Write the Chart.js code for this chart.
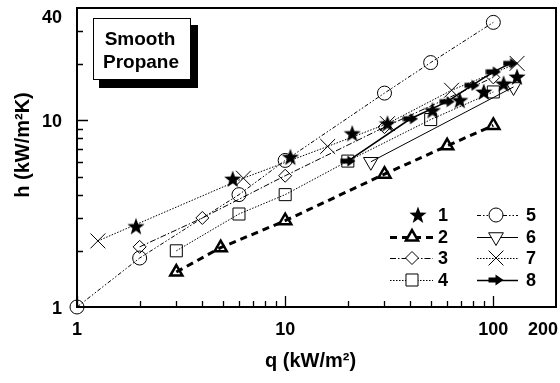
<!DOCTYPE html>
<html>
<head>
<meta charset="utf-8">
<script src="https://cdn.jsdelivr.net/npm/chart.js@4"></script>
<style>
  html, body { margin: 0; padding: 0; background: #fff; }
  #wrap { width: 560px; height: 383px; }
</style>
</head>
<body>
<div id="wrap"><canvas id="chart" width="560" height="383"></canvas></div>
<script>
// series values (q in kW/m2, h in kW/m2K)
const q1 = [1.92, 5.6, 10.6, 21, 31, 51, 69, 90, 112, 130];
const h1 = [2.7, 4.85, 6.35, 8.5, 9.6, 11.3, 12.8, 14.2, 15.7, 17.1];
const q2 = [3, 4.9, 10, 30, 60, 100];
const h2 = [1.54, 2.08, 2.9, 5.15, 7.3, 9.4];
const q3 = [2, 4, 10, 30, 100];
const h3 = [2.1, 3.0, 5.05, 9.2, 17.0];
const q4 = [3, 6, 10, 20, 50, 100];
const h4 = [2.0, 3.15, 4.0, 6.05, 10.1, 14.2];
const q5 = [1, 2, 6, 10, 30, 50, 100];
const h5 = [1, 1.83, 4.0, 6.1, 14, 20.4, 33.5];
const q6 = [25.8, 125];
const h6 = [6.0, 15.1];
const q7 = [1.26, 6.3, 16, 31, 63, 130];
const h7 = [2.26, 4.9, 7.25, 9.6, 14.5, 20.2];
const q8 = [20, 40, 60, 79, 100, 121];
const h8 = [6.05, 10.2, 12.6, 15.4, 18.2, 20.2];

const seriesNames = ['1', '2', '3', '4', '5', '6', '7', '8'];

// axis ticks
const xMajor = [1, 10, 100];
const xMinor = [2, 3, 4, 5, 6, 7, 8, 9, 20, 30, 40, 50, 60, 70, 80, 90];
const xLabels = [1, 10, 100, 200];
const yMajor = [10];
const yMinor = [2, 3, 4, 5, 6, 7, 8, 9, 20, 30];
const yLabels = [1, 10, 40];

const FONT = '"Liberation Sans", Arial, sans-serif';

// filled star and arrow markers
function makeStar() {
    const c = document.createElement('canvas');
    c.width = 18; c.height = 18;
    const g = c.getContext('2d');
    g.beginPath();
    for (let i = 0; i < 10; i++) {
        const r = i % 2 === 0 ? 9 : 3.7;
        const a = -Math.PI / 2 + i * Math.PI / 5;
        const x = 9 + r * Math.cos(a), y = 9.6 + r * Math.sin(a);
        if (i === 0) g.moveTo(x, y); else g.lineTo(x, y);
    }
    g.closePath();
    g.fillStyle = '#000';
    g.fill();
    return c;
}
function makeArrow() {
    const c = document.createElement('canvas');
    c.width = 16; c.height = 12;
    const g = c.getContext('2d');
    g.fillStyle = '#000';
    g.beginPath();
    g.moveTo(0.5, 3.5); g.lineTo(7.5, 3.5); g.lineTo(7.5, 0.5);
    g.lineTo(15.5, 6); g.lineTo(7.5, 11.5); g.lineTo(7.5, 8.5);
    g.lineTo(0.5, 8.5);
    g.closePath();
    g.fill();
    return c;
}
const starImg = makeStar();
const arrowImg = makeArrow();

function pts(qs, hs) {
    return qs.map((q, i) => ({ x: q, y: hs[i] }));
}

const base = { borderColor: '#000', backgroundColor: '#fff', pointBorderColor: '#000',
    pointBackgroundColor: 'rgba(255,255,255,0)', borderWidth: 1, pointBorderWidth: 1, clip: false };

const datasets = [
    Object.assign({}, base, { label: seriesNames[0], data: pts(q1, h1), showLine: false,
        pointStyle: starImg, pointRadius: 8 }),
    Object.assign({}, base, { label: seriesNames[1], data: pts(q2, h2), borderWidth: 3,
        borderDash: [7, 5], pointStyle: 'triangle', pointRadius: 7, pointBorderWidth: 2.5 }),
    Object.assign({}, base, { label: seriesNames[2], data: pts(q3, h3),
        borderDash: [6, 2, 1.5, 2], pointStyle: 'rectRot', pointRadius: 6.5 }),
    Object.assign({}, base, { label: seriesNames[3], data: pts(q4, h4),
        borderDash: [1.5, 1.5], pointStyle: 'rect', pointRadius: 8.5 }),
    Object.assign({}, base, { label: seriesNames[4], data: pts(q5, h5),
        borderDash: [4, 2, 1.5, 2, 1.5, 2], pointStyle: 'circle', pointRadius: 7 }),
    Object.assign({}, base, { label: seriesNames[5], data: pts(q6, h6),
        pointStyle: 'triangle', rotation: 180, pointRadius: 8.5 }),
    Object.assign({}, base, { label: seriesNames[6], data: pts(q7, h7),
        borderDash: [1.5, 1.5], pointStyle: 'crossRot', pointRadius: 10.5 }),
    Object.assign({}, base, { label: seriesNames[7], data: pts(q8, h8), borderWidth: 1.5,
        pointStyle: arrowImg, pointRadius: 8 })
];

// draws frame, inward ticks, tick labels, axis titles, the legend and the label box
const decor = {
    id: 'decor',
    afterDatasetsDraw(chart) {
        const ctx = chart.ctx;
        const a = chart.chartArea;
        const xs = chart.scales.x, ys = chart.scales.y;
        ctx.save();
        ctx.strokeStyle = '#000';
        ctx.fillStyle = '#000';
        ctx.setLineDash([]);

        // frame
        ctx.lineWidth = 2;
        ctx.strokeRect(a.left, a.top, a.right - a.left, a.bottom - a.top);

        // ticks pointing into the plot
        ctx.lineWidth = 1.3;
        ctx.beginPath();
        xMajor.concat(xMinor).forEach(v => {
            const px = Math.round(xs.getPixelForValue(v)) + 0.5;
            const len = xMajor.includes(v) ? 11 : 6;
            ctx.moveTo(px, a.bottom); ctx.lineTo(px, a.bottom - len);
        });
        yMajor.concat(yMinor).forEach(v => {
            const py = Math.round(ys.getPixelForValue(v)) + 0.5;
            const len = yMajor.includes(v) ? 11 : 6;
            ctx.moveTo(a.left, py); ctx.lineTo(a.left + len, py);
        });
        ctx.stroke();

        // tick labels
        ctx.font = 'bold 18px ' + FONT;
        ctx.textBaseline = 'middle';
        ctx.textAlign = 'center';
        xLabels.forEach(v => {
            const t = String(v);
            const w = ctx.measureText(t).width;
            let px = xs.getPixelForValue(v);
            px = Math.min(px, chart.width - w / 2 - 2);
            ctx.fillText(t, px, a.bottom + 23);
        });
        ctx.textAlign = 'right';
        yLabels.forEach(v => {
            let py = ys.getPixelForValue(v) + 2;
            py = Math.max(py, a.top + 10);
            ctx.fillText(String(v), a.left - 15, py);
        });

        // axis titles
        ctx.font = 'bold 20px ' + FONT;
        ctx.textAlign = 'center';
        ctx.fillText('q (kW/m\u00b2)', (a.left + a.right) / 2 - 6, 361);
        ctx.save();
        ctx.translate(23, 145);
        ctx.rotate(-Math.PI / 2);
        ctx.fillText('h (kW/m\u00b2K)', 0, 0);
        ctx.restore();

        // label box with shadow
        ctx.fillRect(99, 25, 99, 63);
        ctx.fillStyle = '#fff';
        ctx.fillRect(93, 18, 98, 62);
        ctx.lineWidth = 1;
        ctx.strokeRect(93.5, 18.5, 97, 61);
        ctx.fillStyle = '#000';
        ctx.font = 'bold 19px ' + FONT;
        ctx.fillText('Smooth', 140, 40);
        ctx.fillText('Propane', 141, 63);

        // legend in two columns
        const cols = [{ x0: 390, x1: 433, mx: 412, tx: 438 }, { x0: 477, x1: 518, mx: 496, tx: 526 }];
        const rows = [215, 237, 258, 280];
        ctx.font = 'bold 18px ' + FONT;
        ctx.textAlign = 'left';
        chart.data.datasets.forEach((ds, i) => {
            const c = cols[Math.floor(i / 4)];
            const y = rows[i % 4];
            ctx.strokeStyle = '#000';
            if (ds.showLine !== false) {
                ctx.lineWidth = ds.borderWidth;
                ctx.setLineDash(ds.borderDash || []);
                ctx.beginPath();
                ctx.moveTo(c.x0, y + 0.5); ctx.lineTo(c.x1, y + 0.5);
                ctx.stroke();
            }
            ctx.setLineDash([]);
            ctx.lineWidth = ds.pointBorderWidth;
            ctx.fillStyle = '#fff';
            const mx = i === 0 ? c.mx + 6 : c.mx;
            Chart.helpers.drawPoint(ctx, { pointStyle: ds.pointStyle, rotation: ds.rotation || 0,
                radius: ds.pointRadius, borderWidth: ds.pointBorderWidth }, mx, y);
            ctx.fillStyle = '#000';
            ctx.fillText(ds.label, c.tx, y + 1);
        });
        ctx.restore();
    }
};

new Chart(document.getElementById('chart'), {
    type: 'line',
    data: { datasets },
    options: {
        responsive: false,
        animation: false,
        layout: { autoPadding: false, padding: { left: 77, top: 8, right: 4, bottom: 76 } },
        plugins: { legend: { display: false }, tooltip: { enabled: false } },
        scales: {
            x: { type: 'logarithmic', min: 1, max: 200, display: false },
            y: { type: 'logarithmic', min: 1, max: 40, display: false }
        }
    },
    plugins: [decor]
});
</script>
</body>
</html>
